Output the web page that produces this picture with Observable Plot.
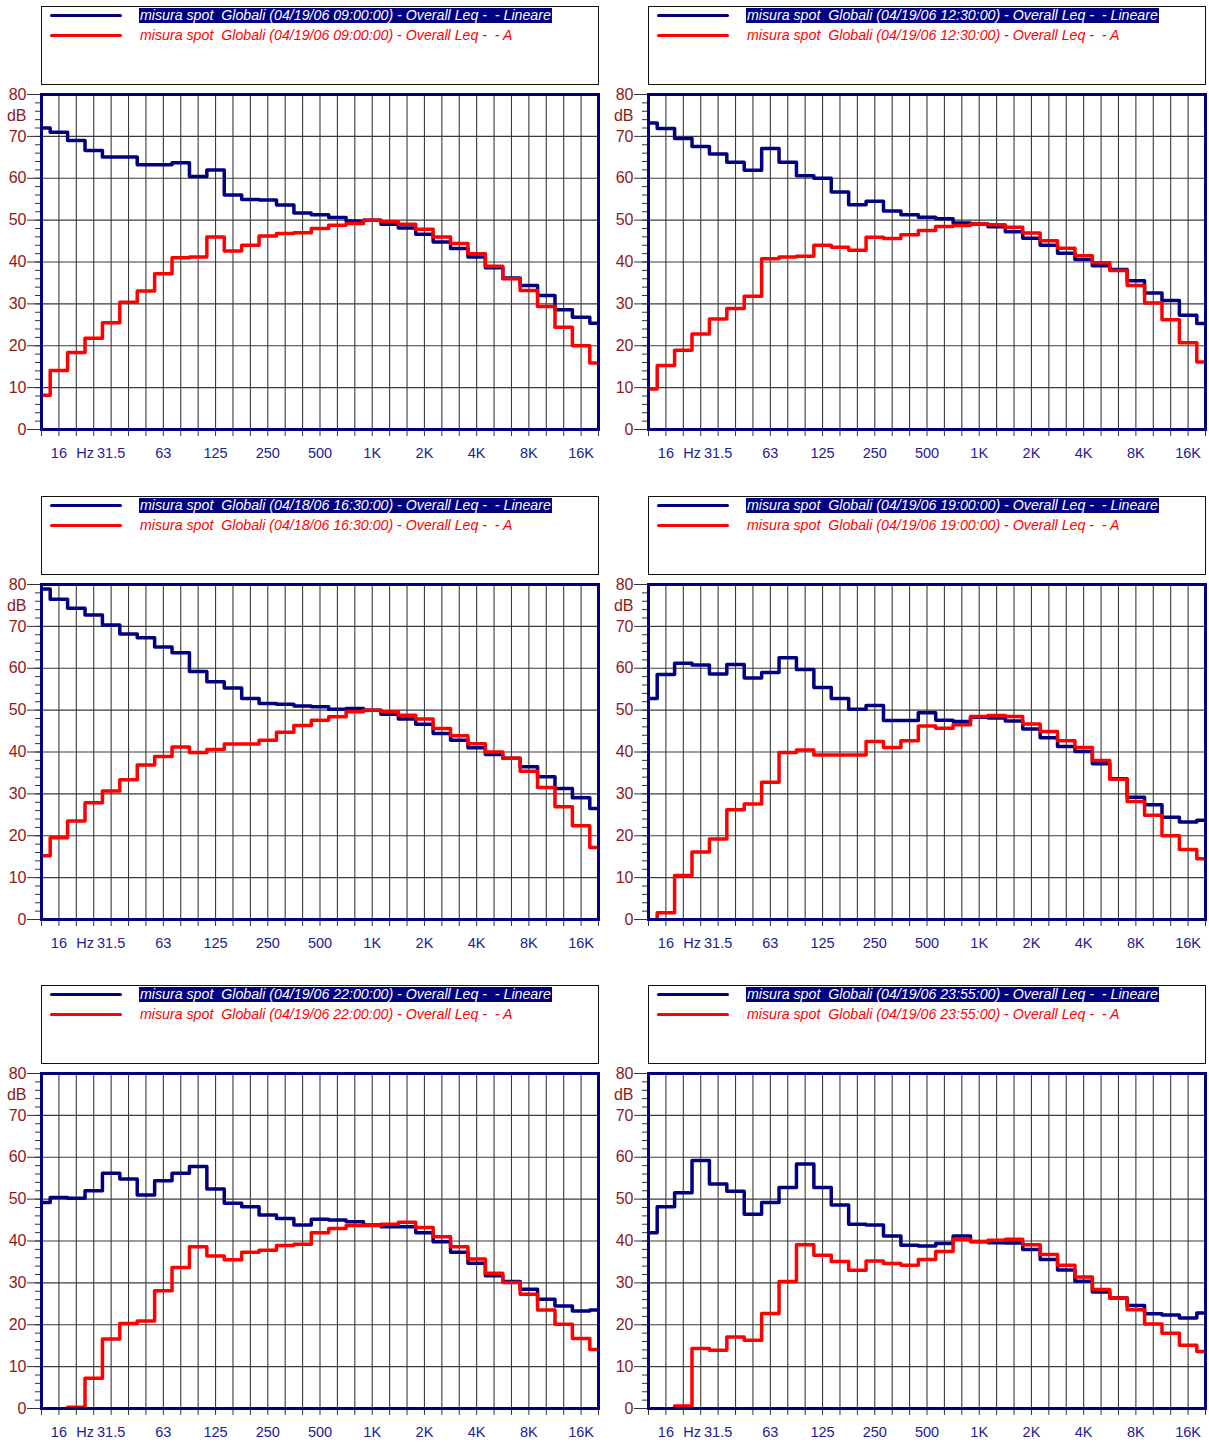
<!DOCTYPE html>
<html><head><meta charset="utf-8">
<script src="https://cdn.jsdelivr.net/npm/d3@7"></script>
<script src="https://cdn.jsdelivr.net/npm/@observablehq/plot@0.6"></script>
<style>
html,body{margin:0;padding:0;background:#fff;overflow:hidden;}
#root{position:relative;width:1209px;height:1442px;font-family:"Liberation Sans",Arial,sans-serif;}
.legend{position:absolute;box-sizing:border-box;border:1px solid #111;width:558px;height:79px;background:#fff;}
.legend .sw{position:absolute;left:8px;width:72px;height:3px;border-radius:1.5px;}
.legend .tx{position:absolute;left:97px;font-style:italic;font-size:14.2px;white-space:pre;line-height:15px;padding:0 1px;}
.chart{position:absolute;}
</style></head><body><div id="root"></div>
<script>
// 1/3-octave band centres (x categories)
const bands = ["12.5","16","20","25","31.5","40","50","63","80","100","125","160","200","250","315","400","500","630","800","1K","1.25K","1.6K","2K","2.5K","3.15K","4K","5K","6.3K","8K","10K","12.5K","16K","20K"];
const tickLabels = ["16","31.5","63","125","250","500","1K","2K","4K","8K","16K"];
const unitLabel = "Hz";
const yTicks = [0,10,20,30,40,50,60,70,80];
const yUnit = "dB";

// measurement titles
const titles = ["04/19/06 09:00:00","04/19/06 12:30:00","04/18/06 16:30:00","04/19/06 19:00:00","04/19/06 22:00:00","04/19/06 23:55:00"];
const seriesNames = ["Lineare","A"];

// dB values per band (Lineare = blue, A-weighted = red); values below 0 fall outside the axis
const lin1 = [72.0,71.0,69.0,66.6,65.1,65.1,63.2,63.2,63.7,60.4,62.0,56.0,54.9,54.8,53.6,51.7,51.3,50.6,49.8,50.0,49.0,48.1,46.6,44.8,43.2,41.2,38.6,36.2,34.4,32.0,28.6,26.8,25.4];
const a1   = [8.2,14.1,18.4,21.8,25.5,30.4,33.1,37.2,41.0,41.2,46.0,42.6,44.0,46.2,46.8,47.0,48.0,48.8,49.2,50.0,49.6,49.0,47.8,46.0,44.4,42.0,39.0,36.0,33.2,29.4,24.4,20.0,15.9];
const lin2 = [73.2,71.9,69.5,67.6,65.8,63.8,61.9,67.1,63.8,60.6,60.0,56.7,53.7,54.5,52.2,51.3,50.7,50.3,49.3,49.1,48.4,47.2,45.7,44.0,42.1,40.6,39.1,38.2,35.5,32.6,30.8,27.3,25.3];
const a2   = [9.7,15.3,18.9,22.8,26.4,28.9,31.8,40.8,41.2,41.4,44.0,43.5,42.8,45.9,45.6,46.5,47.5,48.5,48.7,49.1,48.9,48.3,46.9,45.1,43.3,41.5,39.8,38.0,34.4,30.2,26.2,20.7,16.1];
const lin3 = [78.9,76.5,74.3,72.7,70.3,68.2,67.3,65.1,63.7,59.2,56.8,55.3,52.8,51.6,51.4,51.0,50.8,50.2,50.4,50.0,49.0,47.9,46.6,44.4,42.8,41.0,39.4,38.5,36.5,34.1,31.3,29.1,26.5];
const a3   = [15.2,19.5,23.5,27.9,30.7,33.4,36.9,38.9,41.2,39.9,40.6,41.9,41.9,42.8,44.7,46.3,47.6,48.4,49.6,50.0,49.6,48.8,47.9,45.6,43.9,42.0,40.0,38.5,35.4,31.5,26.9,22.4,17.2];
const lin4 = [52.8,58.5,61.2,60.8,58.6,60.9,57.7,59.0,62.5,59.7,55.4,52.8,50.2,51.1,47.5,47.5,49.4,47.6,47.3,48.3,48.1,47.4,45.5,43.4,41.3,40.1,37.2,33.6,29.2,27.4,24.4,23.3,23.7];
const a4   = [-10,1.6,10.5,16.1,19.2,26.2,27.6,32.8,39.9,40.5,39.3,39.3,39.3,42.5,41.1,42.7,46.2,45.7,46.5,48.5,48.7,48.5,46.7,44.9,42.7,41.1,38.0,33.5,28.2,24.9,20.0,16.7,14.5];
const lin5 = [49.2,50.4,50.2,52.0,56.2,54.8,51.0,54.4,56.2,57.8,52.4,49.0,48.2,46.2,45.4,43.8,45.2,45.0,44.6,43.8,43.4,43.4,42.0,39.8,37.3,34.7,31.7,30.3,28.5,26.1,24.5,23.3,23.5];
const a5   = [-10,-10,0.3,7.2,16.6,20.3,20.9,28.1,33.7,38.6,36.4,35.5,37.3,37.8,38.9,39.2,42.0,43.0,43.7,43.7,44.0,44.5,43.2,41.0,38.6,35.7,32.3,30.1,27.3,23.5,20.1,16.7,14.1];
const lin6 = [42.0,48.2,51.5,59.2,53.6,51.9,46.4,49.2,52.8,58.4,52.8,48.6,44.0,43.8,41.2,39.0,38.8,39.4,41.2,39.9,39.6,39.5,38.0,35.6,33.1,30.4,27.8,26.4,24.6,22.6,22.3,21.6,22.8];
const a6   = [-10,-10,0.6,14.3,13.9,17.1,16.3,22.7,30.3,39.1,36.6,35.1,33.0,35.2,34.6,34.2,35.6,37.5,40.4,39.8,40.2,40.4,39.1,36.8,34.2,31.4,28.4,26.4,23.6,20.2,18.0,15.1,13.6];

const linSeries = [lin1,lin2,lin3,lin4,lin5,lin6];
const aSeries = [a1,a2,a3,a4,a5,a6];

const NAVY = "#000080", RED = "#ff0000";
const root = document.getElementById("root");

function legendText(t, s) {
  return "misura spot  Globali (" + t + ") - Overall Leq -  - " + s;
}

function makeChart(lin, a, col) {
  const rows = (vals) => vals.map((v, i) => ({band: i, dB: v}));
  const last = bands.length - 1;
  const tickIdx = tickLabels.map(l => bands.indexOf(l));
  const hzPos = (bands.indexOf("20") + bands.indexOf("25")) / 2;
  return Plot.plot({
    width: col === 0 ? 610 : 602,
    height: 390,
    marginLeft: 41,
    marginRight: col === 0 ? 12 : 4,
    marginTop: 10,
    marginBottom: 45,
    style: {fontFamily: "Liberation Sans, Arial, sans-serif", background: "transparent"},
    x: {domain: [0, last], axis: null, label: null},
    y: {domain: [0, 80], axis: null, label: null},
    marks: [
      Plot.ruleX(d3.range(1, last), {stroke: "#3a3a3a", strokeWidth: 1.1}),
      Plot.ruleY(d3.range(10, 80, 10), {stroke: "#3a3a3a", strokeWidth: 1.1}),
      Plot.line(rows(lin), {x: "band", y: "dB", curve: "step", stroke: NAVY, strokeWidth: 3.5, clip: true}),
      Plot.line(rows(a), {x: "band", y: "dB", curve: "step", stroke: RED, strokeWidth: 3.5, clip: true}),
      Plot.axisY(d3.range(0, 81, 2), {tickSize: 6, tickFormat: () => "", stroke: "#333", label: null}),
      Plot.axisY(yTicks, {tickSize: 14, tickPadding: 1, stroke: "#333", fill: "#8b1a1a", fontSize: 16, label: null}),
      Plot.axisY([75], {tickSize: 0, tickPadding: 15, tickFormat: () => yUnit, fill: "#8b1a1a", fontSize: 16, label: null}),
      Plot.axisX(d3.range(0, last + 1), {tickSize: 7, tickFormat: () => "", stroke: "#333", label: null}),
      Plot.axisX(tickIdx, {tickSize: 0, tickPadding: 18, tickFormat: i => bands[i], fill: "#202098", fontSize: 14.5, label: null}),
      Plot.axisX([hzPos], {tickSize: 0, tickPadding: 18, tickFormat: () => unitLabel, fill: "#202098", fontSize: 14.5, label: null}),
      Plot.frame({stroke: NAVY, strokeWidth: 3})
    ]
  });
}

const frameTops = [94, 584, 1073];
const colLefts = [0, 607];
for (let p = 0; p < 6; p++) {
  const row = Math.floor(p / 2), col = p % 2;
  const frameLeft = colLefts[col] + 41;
  // legend box
  const lg = document.createElement("div");
  lg.className = "legend";
  lg.style.left = frameLeft + "px";
  lg.style.top = (frameTops[row] - 88) + "px";
  const sw1 = document.createElement("div"); sw1.className = "sw"; sw1.style.top = "7px"; sw1.style.background = NAVY;
  const sw2 = document.createElement("div"); sw2.className = "sw"; sw2.style.top = "27px"; sw2.style.background = RED;
  const t1 = document.createElement("span"); t1.className = "tx"; t1.style.top = "1px"; t1.style.color = "#fff"; t1.style.background = NAVY;
  t1.textContent = legendText(titles[p], seriesNames[0]);
  const t2 = document.createElement("span"); t2.className = "tx"; t2.style.top = "21px"; t2.style.color = RED;
  t2.textContent = legendText(titles[p], seriesNames[1]);
  lg.append(sw1, sw2, t1, t2);
  root.appendChild(lg);
  // chart
  const wrap = document.createElement("div");
  wrap.className = "chart";
  wrap.style.left = colLefts[col] + "px";
  wrap.style.top = (frameTops[row] - 10) + "px";
  wrap.appendChild(makeChart(linSeries[p], aSeries[p], col));
  root.appendChild(wrap);
}
</script></body></html>
